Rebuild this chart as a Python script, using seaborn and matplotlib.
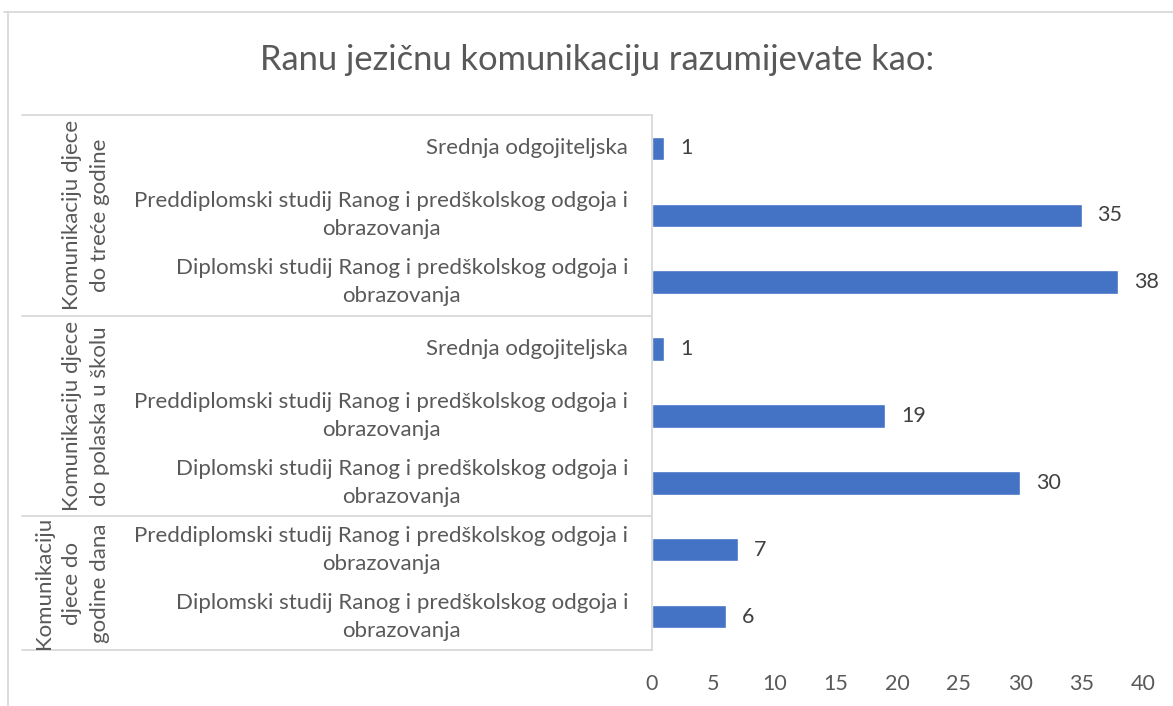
import matplotlib
matplotlib.use("Agg")
import matplotlib.pyplot as plt
import matplotlib.transforms as mtransforms
from matplotlib.lines import Line2D
import seaborn as sns
import pandas as pd

# ---- data ----
groups = [
    "Komunikaciju djece\ndo treće godine",
    "Komunikaciju djece\ndo polaska u školu",
    "Komunikaciju\ndjece do\ngodine dana",
]
group_sizes = [3, 3, 2]
categories = [
    "Srednja odgojiteljska",
    "Preddiplomski studij Ranog i predškolskog odgoja i\nobrazovanja",
    "Diplomski studij Ranog i predškolskog odgoja i\nobrazovanja",
    "Srednja odgojiteljska",
    "Preddiplomski studij Ranog i predškolskog odgoja i\nobrazovanja",
    "Diplomski studij Ranog i predškolskog odgoja i\nobrazovanja",
    "Preddiplomski studij Ranog i predškolskog odgoja i\nobrazovanja",
    "Diplomski studij Ranog i predškolskog odgoja i\nobrazovanja",
]
values = [1, 35, 38, 1, 19, 30, 7, 6]
xticks = [0, 5, 10, 15, 20, 25, 30, 35, 40]
title = "Ranu jezičnu komunikaciju razumijevate kao:"

# ---- style ----
sns.set_theme(style="white")
plt.rcParams["font.family"] = ["Lato", "DejaVu Sans"]
TXT = "#595959"
LBL = "#404040"
GRID = "#D9D9D9"
BAR = "#4472C4"

keys = [f"{i}" for i in range(len(values))]
df = pd.DataFrame({"key": keys, "value": values})

fig = plt.figure(figsize=(11.73, 7.06), dpi=100)
ax = fig.add_axes([652 / 1173, 1 - 650 / 706, 491 / 1173, 535 / 706])

sns.barplot(data=df, x="value", y="key", orient="h", color=BAR,
            width=0.35, saturation=1, ax=ax, order=keys)

ax.set_xlim(0, 40)
ax.set_ylim(len(values) - 0.5, -0.5)
ax.set_xticks(xticks)
ax.set_xticklabels([str(t) for t in xticks], fontsize=15.5, color=TXT)
ax.tick_params(axis="x", length=0, pad=17)
ax.set_yticks([])
ax.set_xlabel("")
ax.set_ylabel("")
for s in ["top", "right", "bottom"]:
    ax.spines[s].set_visible(False)
ax.spines["left"].set_color(GRID)
ax.spines["left"].set_linewidth(1.3)

# data labels
for cont in ax.containers:
    ax.bar_label(cont, labels=[str(v) for v in values], padding=11.5,
                 fontsize=15.5, color=LBL)

# category labels (inner level)
trans = mtransforms.blended_transform_factory(ax.transAxes, ax.transData)
inner_x = (628 - 652) / 491
for i, c in enumerate(categories):
    ax.text(inner_x, i, c, transform=trans, ha="right", va="center",
            multialignment="center", fontsize=16, color=TXT, linespacing=1.5)

# group labels and separator lines
left_x = (22 - 652) / 491
grp_x = (110 - 652) / 491
start = 0
bounds = [-0.5]
for g, n in zip(groups, group_sizes):
    mid = start + (n - 1) / 2
    ax.text(grp_x, mid, g, transform=trans, rotation=90, ha="right",
            va="center", multialignment="center", fontsize=16, color=TXT,
            linespacing=1.5)
    start += n
    bounds.append(start - 0.5)
for b in bounds:
    ax.add_line(Line2D([left_x, 0], [b, b], transform=trans, color=GRID,
                       lw=1.3, clip_on=False))

# title
fig.text(597 / 1173, 1 - 60 / 706, title, ha="center", va="center",
         fontsize=24.8, color=TXT)

# outer chart border (partially visible)
fig.add_artist(Line2D([4 / 1173, 1], [1 - 12 / 706] * 2, transform=fig.transFigure,
                      color=GRID, lw=1.3))
fig.add_artist(Line2D([8 / 1173] * 2, [0, 1 - 12 / 706], transform=fig.transFigure,
                      color=GRID, lw=1.3))

fig.savefig("out.png", dpi=100)
